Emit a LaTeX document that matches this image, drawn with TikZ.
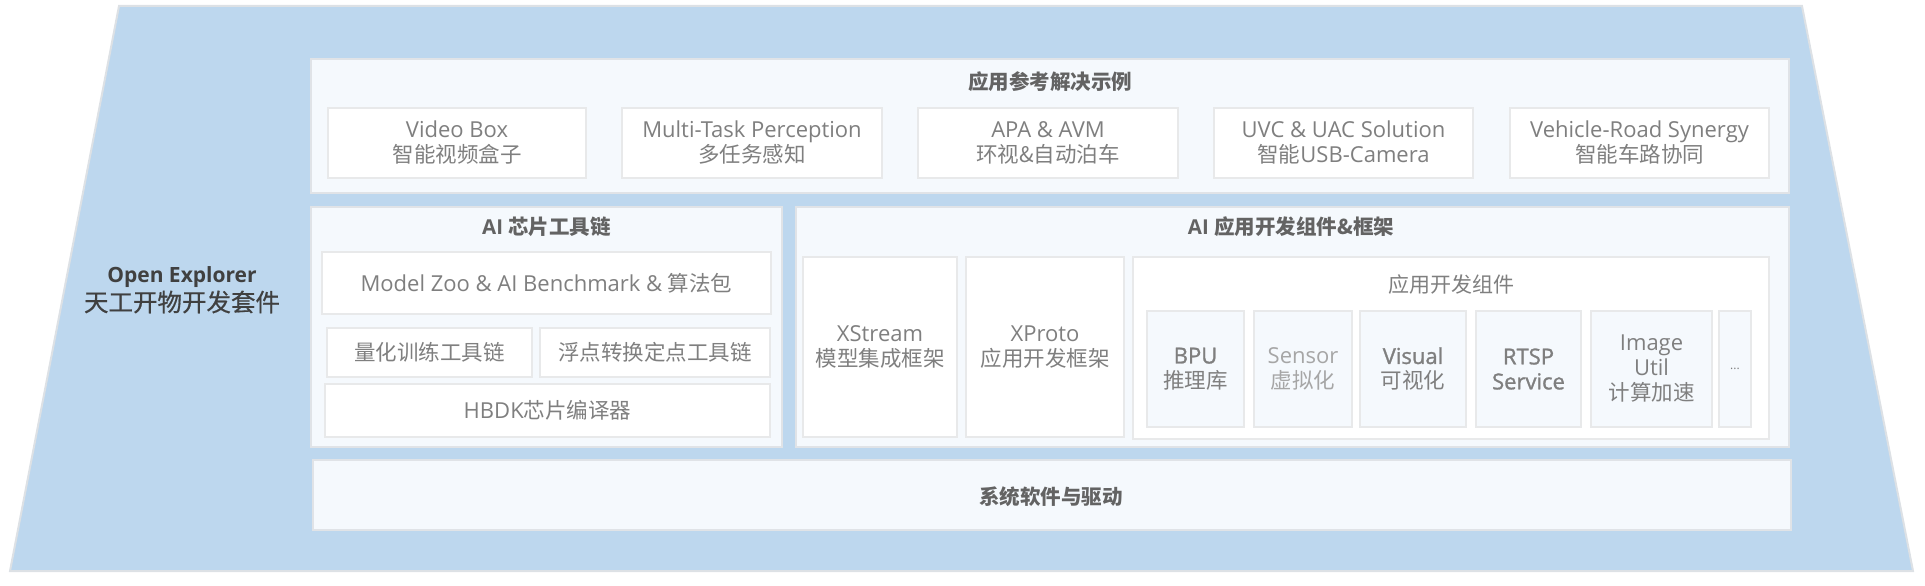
\documentclass[tikz,border=0pt]{standalone}
\usepackage{fontspec}
\setmainfont{Open Sans}
\newfontfamily\cjk{Noto Sans CJK SC}
\newfontfamily\cjkm[FakeBold=0.6]{Noto Sans CJK SC}
\newfontfamily\semib[FakeBold=1.2]{Open Sans}
\newcommand\cj[1]{{\fontsize{21.5}{25}\selectfont\cjk #1}}
\definecolor{trap}{HTML}{BDD7EE}
\definecolor{trapln}{HTML}{DDE1E5}
\definecolor{panelbg}{HTML}{F5F9FD}
\definecolor{panelln}{HTML}{E0E3E7}
\definecolor{boxln}{HTML}{E8E9EA}
\definecolor{txt}{HTML}{7F7F7F}
\definecolor{ttlc}{HTML}{636363}
\definecolor{darkc}{HTML}{404040}
\definecolor{lightc}{HTML}{A6A6A6}
\begin{document}
\begin{tikzpicture}[x=1pt,y=-1pt,
  wh/.style 2 args={minimum width=#1pt, minimum height=#2pt},
  panel/.style={draw=panelln, line width=2.5pt, fill=panelbg, inner sep=0pt},
  wbox/.style={draw=boxln, line width=2pt, fill=white, inner sep=0pt, align=center, text=txt, font=\fontsize{22}{25}\selectfont},
  sbox/.style={draw=boxln, line width=2pt, fill=panelbg, inner sep=0pt, align=center, text=txt, font=\fontsize{22}{25}\selectfont},
  ttl/.style={text=ttlc, font=\fontsize{20.5}{24}\selectfont\bfseries, inner sep=0pt},
  sub/.style={text=txt, font=\fontsize{21}{24}\selectfont, inner sep=0pt}]
\useasboundingbox (0,0) rectangle (1925,586);
% outer trapezoid
\coordinate (tl) at (119,6);
\coordinate (tr) at (1802,6);
\coordinate (br) at (1913,571);
\coordinate (bl) at (10,571);
\foreach \d/\o in {7/0.08,6/0.10,5/0.12,4/0.14,3/0.16}
  \fill[black,opacity=\o,shift={(\d,\d)}] (tl) -- (tr) -- (br) -- (bl) -- cycle;
\path[draw=trapln, line width=2pt, fill=trap] (tl) -- (tr) -- (br) -- (bl) -- cycle;
\node[inner sep=0pt, align=center, text=darkc] (oe) at (182,290)
  {{\fontsize{21}{30}\selectfont\bfseries Open Explorer}\\[2pt]{\fontsize{24.5}{30}\selectfont\cjkm 天工开物开发套件}};
% top panel
\node[panel, wh={1478}{134}] (ref) at (1050,126) {};
\node[ttl] (reft) at (1050,82) {\cjk 应用参考解决示例};
\node[wbox, wh={258}{70}] (vb) at (457,143) {Video Box\\\cj{智能视频盒子}};
\node[wbox, wh={260}{70}] (mt) at (752,143) {Multi-Task Perception\\\cj{多任务感知}};
\node[wbox, wh={260}{70}] (apa) at (1048,143) {APA \& AVM\\\cj{环视\&自动泊车}};
\node[wbox, wh={259}{70}] (uvc) at (1343.5,143) {UVC \& UAC Solution\\\cj{智能}USB-Camera};
\node[wbox, wh={259}{70}] (vr) at (1639.5,143) {Vehicle-Road Synergy\\\cj{智能车路协同}};
% left panel
\node[panel, wh={471}{240}] (chip) at (546.5,327) {};
\node[ttl] (chipt) at (546.5,227) {AI {\cjk 芯片工具链}};
\node[wbox, wh={449}{62}] (mz) at (546.5,283) {Model Zoo \& AI Benchmark \& \cj{算法包}};
\node[wbox, wh={205}{49}] (qt) at (429.5,352.5) {\cj{量化训练工具链}};
\node[wbox, wh={230}{49}] (fp) at (655,352.5) {\cj{浮点转换定点工具链}};
\node[wbox, wh={445}{53}] (hb) at (547.5,410.5) {HBDK\cj{芯片编译器}};
% right panel
\node[panel, wh={993}{240}] (app) at (1292.5,327) {};
\node[ttl] (appt) at (1291,227) {AI {\cjk 应用开发组件\&框架}};
\node[wbox, wh={154}{180}] (xs) at (880,347) {XStream\\\cj{模型集成框架}};
\node[wbox, wh={158}{180}] (xp) at (1045,347) {XProto\\\cj{应用开发框架}};
\node[wbox, wh={636}{182}] (comp) at (1451,348) {};
\node[sub] (compt) at (1451,285) {\cjk 应用开发组件};
\node[sbox, wh={97}{116}] (bpu) at (1195.5,369) {{\semib BPU}\\\cj{推理库}};
\node[sbox, wh={98}{116}, text=lightc] (sen) at (1303,369) {Sensor\\\cj{虚拟化}};
\node[sbox, wh={106}{116}] (vis) at (1413,369) {{\semib Visual}\\\cj{可视化}};
\node[sbox, wh={105}{116}] (rtsp) at (1528.5,369) {\semib RTSP\\\semib Service};
\node[sbox, wh={121}{116}] (img) at (1651.5,369) {Image\\Util\\\cj{计算加速}};
\node[sbox, wh={32}{116}, font=\fontsize{12}{14}\selectfont] (more) at (1735,369) {...};
% bottom panel
\node[panel, wh={1478}{70}] (sys) at (1052,495) {};
\node[ttl] (syst) at (1051,497) {\cjk 系统软件与驱动};
\end{tikzpicture}
\end{document}
